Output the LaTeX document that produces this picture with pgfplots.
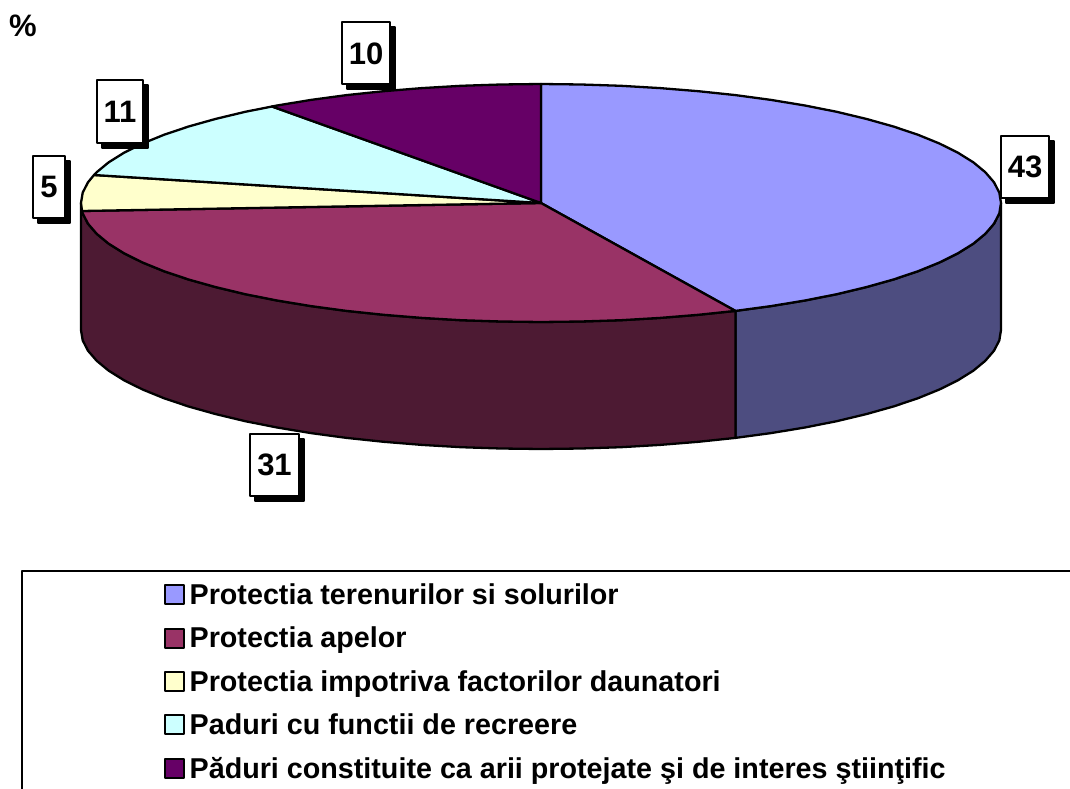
\documentclass[border=0pt]{standalone}
\usepackage{fontspec}
\setmainfont{Liberation Sans}
\usepackage{pgfplots}
\pgfplotsset{compat=1.18}
\usetikzlibrary{shadows}
\definecolor{sliceA}{HTML}{9999FF}
\definecolor{sliceB}{HTML}{993366}
\definecolor{sliceC}{HTML}{FFFFCC}
\definecolor{sliceD}{HTML}{CCFFFF}
\definecolor{sliceE}{HTML}{660066}
\definecolor{sideA}{HTML}{4D4D80}
\definecolor{sideB}{HTML}{4D1A33}
\newcommand{\legfont}{\fontsize{28.7}{32}\selectfont\bfseries}
\begin{document}
\begin{tikzpicture}
\useasboundingbox (0,0) rectangle (1070pt,789pt);
\begin{axis}[
  scale only axis, width=1070pt, height=789pt,
  xmin=0, xmax=1070, ymin=0, ymax=789, y dir=reverse,
  hide axis,
  legend style={at={(axis cs:164,580.5)}, anchor=north west, draw=none, fill=none,
    font=\legfont, row sep=15.1pt, inner sep=0pt, outer sep=0pt,
    nodes={inner sep=3pt}, cells={anchor=west}},
  legend cell align=left,
  legend image code/.code={\draw[#1, line width=2pt] (0pt,-9.5pt) rectangle (19pt,9.5pt); \path (20.5pt,0pt);},
  every axis plot/.append style={line width=2.3pt, line join=round},
]
% side walls
\addplot[draw=black, fill=sideA, forget plot] coordinates {
  (1001,203) (999.3,213.4) (994,223.7) (985.3,233.8) (973.3,243.7) (957.9,253.3)
  (939.4,262.5) (917.8,271.3) (893.4,279.5) (866.3,287.1) (836.7,294.2) (804.9,300.5)
  (771,306.1) (735.4,310.9)
  (735.4,437.9) (771,433.1) (804.9,427.5) (836.7,421.2) (866.3,414.1) (893.4,406.5)
  (917.8,398.3) (939.4,389.5) (957.9,380.3) (973.3,370.7) (985.3,360.8) (994,350.7)
  (999.3,340.4) (1001,330) (1001,203)};
\addplot[draw=black, fill=sideB, forget plot] coordinates {
  (735.4,310.9) (698.3,314.8) (660.1,317.9) (620.9,320.2) (581.1,321.5) (541,322)
  (500.9,321.5) (461.1,320.2) (421.9,317.9) (383.7,314.8) (346.6,310.9) (311,306.1)
  (277.1,300.5) (245.3,294.2) (215.7,287.1) (188.6,279.5) (164.2,271.3) (142.6,262.5)
  (124.1,253.3) (108.7,243.7) (96.7,233.8) (88,223.7) (82.7,213.4) (81,203)
  (81,330) (82.7,340.4) (88,350.7) (96.7,360.8) (108.7,370.7) (124.1,380.3)
  (142.6,389.5) (164.2,398.3) (188.6,406.5) (215.7,414.1) (245.3,421.2) (277.1,427.5)
  (311,433.1) (346.6,437.9) (383.7,441.8) (421.9,444.9) (461.1,447.2) (500.9,448.5)
  (541,449) (581.1,448.5) (620.9,447.2) (660.1,444.9) (698.3,441.8) (735.4,437.9)
  (735.4,310.9)};
% top slices
\addplot[draw=black, fill=sliceA] coordinates {
  (541,203) (541,84) (581.1,84.5) (620.9,85.8) (660.1,88.1) (698.3,91.2) (735.4,95.1)
  (771,99.9) (804.9,105.5) (836.7,111.8) (866.3,118.9) (893.4,126.5) (917.8,134.7)
  (939.4,143.5) (957.9,152.7) (973.3,162.3) (985.3,172.2) (994,182.3) (999.3,192.6)
  (1001,203) (999.3,213.4) (994,223.7) (985.3,233.8) (973.3,243.7) (957.9,253.3)
  (939.4,262.5) (917.8,271.3) (893.4,279.5) (866.3,287.1) (836.7,294.2) (804.9,300.5)
  (771,306.1) (735.4,310.9) (541,203)};
\addlegendentry{Protectia terenurilor si solurilor}
\addplot[draw=black, fill=sliceB] coordinates {
  (541,203) (735.4,310.9) (698.3,314.8) (660.1,317.9) (620.9,320.2) (581.1,321.5) (541,322)
  (500.9,321.5) (461.1,320.2) (421.9,317.9) (383.7,314.8) (346.6,310.9) (311,306.1)
  (277.1,300.5) (245.3,294.2) (215.7,287.1) (188.6,279.5) (164.2,271.3) (142.6,262.5)
  (124.1,253.3) (108.7,243.7) (96.7,233.8) (88,223.7) (82.7,213.4) (82,211) (541,203)};
\addlegendentry{Protectia apelor}
\addplot[draw=black, fill=sliceC] coordinates {
  (541,203) (82,211) (81,203) (82.7,192.6) (88,182.3) (94,175) (541,203)};
\addlegendentry{Protectia impotriva factorilor daunatori}
\addplot[draw=black, fill=sliceD] coordinates {
  (541,203) (94,175) (96.7,172.2) (108.7,162.3) (124.1,152.7) (142.6,143.5) (164.2,134.7)
  (188.6,126.5) (215.7,118.9) (245.3,111.8) (272,106.5) (541,203)};
\addlegendentry{Paduri cu functii de recreere}
\addplot[draw=black, fill=sliceE] coordinates {
  (541,203) (272,106.5) (277.1,105.5) (311,99.9) (346.6,95.1) (383.7,91.2) (421.9,88.1)
  (461.1,85.8) (500.9,84.5) (541,84) (541,203)};
\addlegendentry{Păduri constituite ca arii protejate şi de interes ştiinţific}
% data labels
\addplot[forget plot, only marks, mark=none, point meta=explicit symbolic,
  nodes near coords,
  nodes near coords style={anchor=center, draw=black, fill=white, line width=2pt,
    font=\fontsize{31}{33}\selectfont\bfseries, text=black, minimum height=62pt, inner xsep=7pt,
    general shadow={shadow xshift=5pt, shadow yshift=-5pt, fill=black}}]
  coordinates {(1025,166.5)[43] (274.5,464.5)[31] (49,187)[5] (120,111.5)[11] (366,53.5)[10]};
% legend frame
\addplot[forget plot, draw=black, line width=2.4pt] coordinates {(1070,571) (22,571) (22,789)};
\node[font=\fontsize{31}{33}\selectfont\bfseries] at (axis cs:23,26) {\%};
\end{axis}
\end{tikzpicture}
\end{document}
